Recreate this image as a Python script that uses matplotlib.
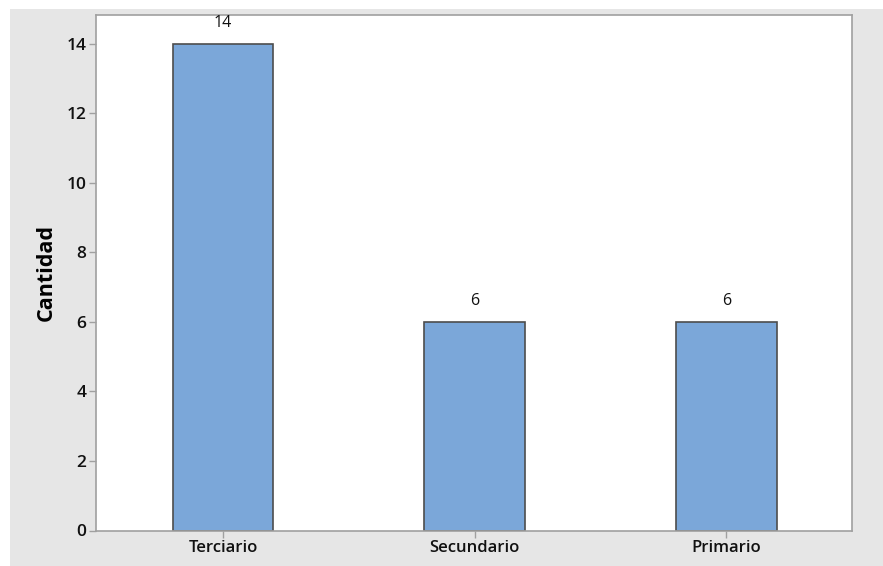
import matplotlib.pyplot as plt
from matplotlib.patches import Rectangle
import numpy as np

categorias = ['Terciario', 'Secundario', 'Primario']
cantidad = [14, 6, 6]
yticks = [0, 2, 4, 6, 8, 10, 12, 14]

plt.rcParams['font.family'] = ['Open Sans', 'DejaVu Sans']

fig = plt.figure(figsize=(8.83, 5.66), dpi=100)
# fondo gris estilo Minitab
fig.patches.append(Rectangle((10 / 883, 0), 1, 1 - 9 / 566, transform=fig.transFigure,
                             facecolor='#e6e6e6', edgecolor='none', zorder=-5))

ax = fig.add_axes([96 / 883, 1 - 530.5 / 566, 756 / 883, 515.5 / 566])
ax.set_zorder(1)
ax.set_facecolor('white')

x = np.arange(len(categorias))
ax.bar(x, cantidad, width=0.4, color='#7ba7d9', edgecolor='#4d4d4d', linewidth=1.2, zorder=2)

for xi, v in zip(x, cantidad):
    ax.annotate(str(v), (xi, v), xytext=(0, 15), textcoords='offset points',
                ha='center', va='center', fontsize=11.5, color='#111111')

ax.set_xlim(-0.505, 2.5)
ax.set_ylim(0, 14.83)
ax.set_xticks(x)
ax.set_xticklabels(categorias, fontsize=12, fontweight='semibold')
ax.set_yticks(yticks)
ax.set_yticklabels([str(t) for t in yticks], fontsize=12.5, fontweight='semibold')
ax.set_ylabel('Cantidad', fontsize=15.5, fontweight='bold')
ax.yaxis.set_label_coords(-0.052, 0.5)

for s in ax.spines.values():
    s.set_color('#a0a0a0')
    s.set_linewidth(1.2)
ax.tick_params(axis='both', colors='#a0a0a0', labelcolor='#111111', length=5, width=1)
ax.tick_params(axis='y', pad=2)
ax.tick_params(axis='x', pad=2)

fig.savefig('out.png', dpi=100)
